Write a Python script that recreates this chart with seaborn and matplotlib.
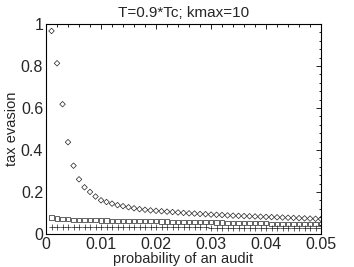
import numpy as np
import pandas as pd
import seaborn as sns
import matplotlib.pyplot as plt
from matplotlib.ticker import MultipleLocator, AutoMinorLocator, FuncFormatter

# audit probabilities
prob = [0.001, 0.002, 0.003, 0.004, 0.005, 0.006, 0.007, 0.008, 0.009, 0.010,
        0.011, 0.012, 0.013, 0.014, 0.015, 0.016, 0.017, 0.018, 0.019, 0.020,
        0.021, 0.022, 0.023, 0.024, 0.025, 0.026, 0.027, 0.028, 0.029, 0.030,
        0.031, 0.032, 0.033, 0.034, 0.035, 0.036, 0.037, 0.038, 0.039, 0.040,
        0.041, 0.042, 0.043, 0.044, 0.045, 0.046, 0.047, 0.048, 0.049, 0.050]

# tax evasion, three series
evasion_diamond = [0.967, 0.813, 0.618, 0.437, 0.325, 0.260, 0.222, 0.200, 0.178, 0.160,
                   0.152, 0.144, 0.137, 0.132, 0.127, 0.122, 0.118, 0.115, 0.112, 0.110,
                   0.108, 0.106, 0.104, 0.102, 0.100, 0.098, 0.097, 0.095, 0.094, 0.092,
                   0.091, 0.090, 0.088, 0.087, 0.086, 0.085, 0.084, 0.083, 0.082, 0.081,
                   0.080, 0.079, 0.078, 0.077, 0.076, 0.075, 0.074, 0.073, 0.072, 0.071]
evasion_square = [0.078, 0.073, 0.071, 0.069, 0.068, 0.067, 0.066, 0.066, 0.065, 0.064,
                  0.064, 0.063, 0.063, 0.062, 0.062, 0.061, 0.061, 0.060, 0.060, 0.060,
                  0.059, 0.059, 0.058, 0.058, 0.057, 0.057, 0.056, 0.056, 0.055, 0.055,
                  0.054, 0.054, 0.053, 0.053, 0.052, 0.052, 0.051, 0.051, 0.050, 0.050,
                  0.049, 0.049, 0.049, 0.048, 0.048, 0.047, 0.047, 0.047, 0.046, 0.046]
evasion_plus = [0.034, 0.034, 0.034, 0.034, 0.034, 0.034, 0.033, 0.033, 0.033, 0.033,
                0.033, 0.033, 0.033, 0.032, 0.032, 0.032, 0.032, 0.032, 0.032, 0.032,
                0.031, 0.031, 0.031, 0.031, 0.031, 0.031, 0.031, 0.031, 0.031, 0.030,
                0.030, 0.030, 0.030, 0.030, 0.030, 0.030, 0.030, 0.030, 0.030, 0.030,
                0.029, 0.029, 0.029, 0.029, 0.029, 0.029, 0.029, 0.029, 0.029, 0.029]

sns.set_style('white')
plt.rcParams['font.family'] = ['Liberation Sans', 'DejaVu Sans']

fig = plt.figure(figsize=(3.54, 2.67), dpi=100)
ax = fig.add_axes([0.130, 0.124, 0.777, 0.786])

sns.scatterplot(x=prob, y=evasion_diamond, ax=ax, marker='D', s=8,
                facecolors='none', edgecolor='#222222', linewidth=0.5)
sns.scatterplot(x=prob, y=evasion_square, ax=ax, marker='s', s=9,
                facecolors='none', edgecolor='#222222', linewidth=0.5)
sns.scatterplot(x=prob, y=evasion_plus, ax=ax, marker='+', s=14,
                color='#222222', linewidth=0.5)

ax.set_xlim(0, 0.05)
ax.set_ylim(0, 1)
ax.xaxis.set_major_locator(MultipleLocator(0.01))
ax.yaxis.set_major_locator(MultipleLocator(0.2))
ax.xaxis.set_minor_locator(AutoMinorLocator(5))
ax.yaxis.set_minor_locator(AutoMinorLocator(5))
fmt = FuncFormatter(lambda v, pos: ('%g' % round(v, 4)))
ax.xaxis.set_major_formatter(fmt)
ax.yaxis.set_major_formatter(fmt)
ax.tick_params(which='both', direction='in', top=True, right=True,
               labelsize=11.5, width=0.6, color='black', pad=2)
ax.tick_params(which='major', length=3.5)
ax.tick_params(which='minor', length=1.8)
for sp in ax.spines.values():
    sp.set_color('black')
    sp.set_linewidth(0.8)

ax.set_title('T=0.9*Tc; kmax=10', fontsize=11, pad=5)
ax.set_xlabel('probability of an audit', fontsize=10.5, labelpad=0)
ax.set_ylabel('tax evasion', fontsize=10.5, labelpad=1)

fig.savefig('out.png', dpi=100)
